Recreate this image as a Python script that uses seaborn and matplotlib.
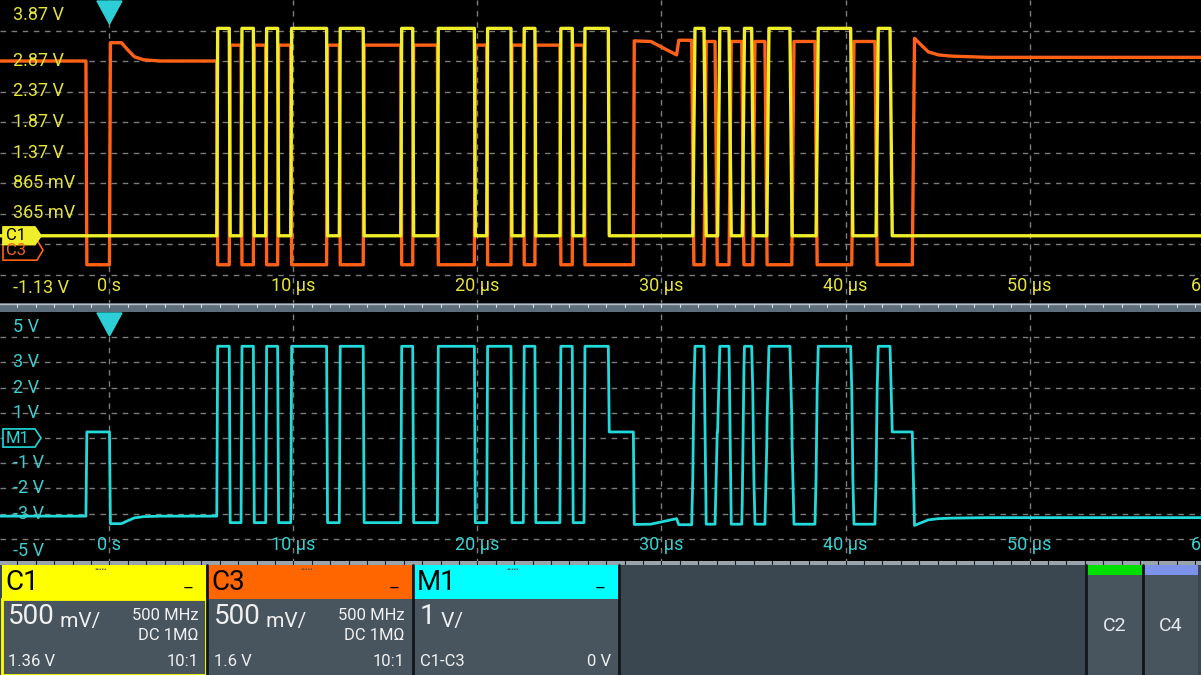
import numpy as np
import pandas as pd
import seaborn as sns
import matplotlib.pyplot as plt
import matplotlib.transforms as mtransforms
from matplotlib.patches import Rectangle, Polygon

# ---------------- data ----------------
# visible time window, µs
t_start_us, t_end_us = -5.95, 59.32

# C1 (yellow) toggle times in µs, trace starts low
c1_edges_us = [5.83, 6.51, 7.15, 7.82, 8.49, 9.14, 9.85, 11.80, 12.49, 13.79,
               15.83, 16.48, 17.82, 19.83, 20.50, 21.82, 22.49, 23.12, 24.48, 25.15,
               25.79, 27.11, 31.70, 32.31, 33.05, 33.67, 34.39, 34.90, 35.72, 36.98,
               38.40, 40.28, 41.66, 42.42]
c1_low_v, c1_high_v = 0.0, 3.40

# C3 (orange) toggle times in µs, trace starts high
c3_edges_us = [-1.28, 0.0, 5.83, 6.51, 7.15, 7.82, 8.49, 9.14, 9.85, 11.80,
               12.49, 13.79, 15.83, 16.48, 17.82, 19.83, 20.50, 21.82, 22.49, 23.12,
               24.48, 25.15, 25.79, 28.47, 31.64, 32.31, 32.91, 33.67, 34.36, 34.96,
               35.62, 37.08, 38.34, 40.34, 41.60, 43.63]
c3_low_v = -0.24
# level of every C3 high plateau: volts, or (µs after edge, volts) points for the sagging ones
c3_high_v = [
    3.10,
    [(0, 3.40), (0.6, 3.40), (0.95, 3.28), (1.3, 3.17), (1.8, 3.12), (2.7, 3.10)],
    3.36, 3.36, 3.36, 3.36, 3.36, 3.36, 3.36, 3.36, 3.36, 3.36,
    [(0, 3.43), (0.9, 3.42), (1.6, 3.31), (2.3, 3.20), (2.42, 3.44)],
    3.42, 3.42, 3.42, 3.42, 3.42,
    [(0, 3.47), (0.37, 3.36), (0.75, 3.25), (1.3, 3.20), (2.0, 3.18), (4.0, 3.16)],
]

# vertical settings
c1_offset_v, c1_scale_v = 1.365, 0.5
c3_offset_v, c3_scale_v = 1.6, 0.5
m1_offset_v, m1_scale_v = 0.0, 1.0

top_tick_div = [4.5, 3, 2, 1, 0, -1, -2, -4.45]
top_tick_labels = ["3.87 V", "2.87 V", "2.37 V", "1.87 V", "1.37 V", "865 mV", "365 mV", "-1.13 V"]
bot_tick_v = [4.4, 3, 2, 1, -1, -2, -3, -4.5]
bot_tick_labels = ["5 V", "3 V", "2 V", "1 V", "-1 V", "-2 V", "-3 V", "-5 V"]
time_ticks_us = [0, 10, 20, 30, 40, 50, 60]
time_labels = ["0 s", "10 µs", "20 µs", "30 µs", "40 µs", "50 µs", "60 µs"]
trigger_us = 0.0

YEL, ORA, CYA = "#f0ee2a", "#ff6216", "#22dada"
GRID = "#7c7c7c"


def edge_ramp(t):
    # the later frame has visibly slower edges
    return 0.12 if t > 29 else 0.05


def build_trace(edges, levels):
    starts = [t_start_us] + [e + edge_ramp(e) for e in edges]
    ends = list(edges) + [t_end_us]
    ts, vs = [], []
    for s, e, lev in zip(starts, ends, levels):
        pts = lev if isinstance(lev, list) else [(0, lev)]
        last = pts[0][1]
        for dt, v in pts:
            if s + dt < e:
                ts.append(s + dt)
                vs.append(v)
                last = v
        ts.append(e)
        vs.append(last)
    return np.array(ts), np.array(vs)


c1_levels = [c1_low_v if i % 2 == 0 else c1_high_v for i in range(len(c1_edges_us) + 1)]
c3_levels = []
hi = iter(c3_high_v)
for i in range(len(c3_edges_us) + 1):
    c3_levels.append(next(hi) if i % 2 == 0 else c3_low_v)

t1, v1 = build_trace(c1_edges_us, c1_levels)
t3, v3 = build_trace(c3_edges_us, c3_levels)
tm = np.union1d(t1, t3)
vm = np.interp(tm, t1, v1) - np.interp(tm, t3, v3)   # M1 = C1 - C3

df_c1 = pd.DataFrame({"t": t1, "div": (v1 - c1_offset_v) / c1_scale_v})
df_c3 = pd.DataFrame({"t": t3, "div": (v3 - c3_offset_v) / c3_scale_v})
df_m1 = pd.DataFrame({"t": tm, "div": (vm - m1_offset_v) / m1_scale_v})

# ---------------- figure ----------------
sns.set_style("dark")
plt.rcParams["font.family"] = ["Roboto", "DejaVu Sans"]

W, H = 1201, 675
fig = plt.figure(figsize=(W / 100, H / 100), dpi=100, facecolor="black")
ax_top = fig.add_axes([0, 1 - 305 / H, 1, 305 / H])
ax_bot = fig.add_axes([0, 1 - 564 / H, 1, 252 / H])

for ax in (ax_top, ax_bot):
    ax.set_facecolor("black")
    ax.set_xlim(t_start_us, t_end_us)
    ax.set_ylim(-5, 5)
    ax.set_xticks([])
    ax.set_yticks([])
    ax.grid(False)
    for sp in ax.spines.values():
        sp.set_visible(False)
    for d in range(-4, 5):
        ax.axhline(d, color=GRID, lw=1, dashes=(4, 4), zorder=1)
    for t in time_ticks_us[:-1]:
        ax.axvline(t, color=GRID, lw=1, dashes=(4, 4), zorder=1)

sns.lineplot(data=df_c3, x="t", y="div", estimator=None, sort=False,
             color=ORA, lw=2.4, ax=ax_top, zorder=3)
sns.lineplot(data=df_c1, x="t", y="div", estimator=None, sort=False,
             color=YEL, lw=2.4, ax=ax_top, zorder=4)
sns.lineplot(data=df_m1, x="t", y="div", estimator=None, sort=False,
             color=CYA, lw=2.0, ax=ax_bot, zorder=3)
for ax in (ax_top, ax_bot):
    ax.set_xlabel("")
    ax.set_ylabel("")
    ax.set_xlim(t_start_us, t_end_us)
    ax.set_ylim(-5, 5)

# axis labels drawn inside the graticule
for ax, ticks, labels, col in ((ax_top, top_tick_div, top_tick_labels, "#e6e43a"),
                               (ax_bot, bot_tick_v, bot_tick_labels, "#3ccfd0")):
    tr = mtransforms.blended_transform_factory(ax.transAxes, ax.transData)
    for y, lab in zip(ticks, labels):
        ax.text(13 / W, y, lab, transform=tr, color=col, fontsize=13,
                ha="left", va="center", zorder=6)

for ax, ypos, col in ((ax_top, 19 / 305, "#e6e43a"), (ax_bot, 19 / 252, "#3ccfd0")):
    tr = mtransforms.blended_transform_factory(ax.transData, ax.transAxes)
    for t, lab in zip(time_ticks_us, time_labels):
        ax.text(t, ypos, lab, transform=tr, color=col, fontsize=13,
                ha="center", va="center", zorder=6)
    # trigger marker
    ax.add_patch(Polygon([(trigger_us - 0.68, 1 - 1 / ax.bbox.height),
                          (trigger_us + 0.68, 1 - 1 / ax.bbox.height),
                          (trigger_us, 1 - 24 / ax.bbox.height)],
                         closed=True, transform=tr, color="#2ccfd6", zorder=7,
                         clip_on=False))


def channel_tag(ax, y_div, half_div, w_px, text, edge, face, tcol):
    tr = mtransforms.blended_transform_factory(ax.transAxes, ax.transData)
    x0, x1, x2 = 3 / W, w_px / W, (w_px + 6) / W
    ax.add_patch(Polygon([(x0, y_div - half_div), (x1, y_div - half_div), (x2, y_div),
                          (x1, y_div + half_div), (x0, y_div + half_div)],
                         closed=True, transform=tr, fc=face, ec=edge, lw=1.2, zorder=8))
    ax.text(6 / W, y_div, text, transform=tr, color=tcol, fontsize=12,
            ha="left", va="center", zorder=9)


channel_tag(ax_top, (0 - c3_offset_v) / c3_scale_v, 0.33, 37, "C3", ORA, "black", ORA)
channel_tag(ax_top, (0 - c1_offset_v) / c1_scale_v, 0.29, 35, "C1", YEL, YEL, "black")
channel_tag(ax_bot, (0 - m1_offset_v) / m1_scale_v, 0.36, 35, "M1", CYA, "black", CYA)

# ---------------- UI overlay (pixel coordinates) ----------------
ui = fig.add_axes([0, 0, 1, 1], facecolor="none")
ui.set_xlim(0, W)
ui.set_ylim(H, 0)
ui.axis("off")

# ruler between the two panes and under the lower pane
ui.add_patch(Rectangle((0, 303), W, 9, fc="#5d6d79", ec="none"))
ui.plot([0, W], [303.5, 303.5], color="#b4bec6", lw=1)
ui.add_patch(Rectangle((0, 561), W, 4, fc="#9aa4ad", ec="none"))
tr_ruler = mtransforms.blended_transform_factory(ax_top.transData, ui.transData)
for t in range(-5, 60):
    ui.plot([t, t], [303.5, 307], color="#d6dde2", lw=0.8, transform=tr_ruler)
    ui.plot([t, t], [561, 564], color="#1a1a1a", lw=0.8, transform=tr_ruler)

# bottom settings bar
ui.add_patch(Rectangle((0, 565), W, H - 565, fc="#3b4750", ec="none"))

boxes = [
    (2, "C1", "#ffff00", "500", "mV/", ["500 MHz", "DC 1MΩ"], "1.36 V", "10:1", True),
    (208, "C3", "#ff6600", "500", "mV/", ["500 MHz", "DC 1MΩ"], "1.6 V", "10:1", False),
    (414, "M1", "#00ffff", "1", "V/", [], "C1-C3", "0 V", False),
]
for x0, name, hcol, big, unit, rinfo, bl, br, sel in boxes:
    ui.add_patch(Rectangle((x0, 565), 204, 34, fc=hcol, ec="none"))
    ui.add_patch(Rectangle((x0, 599), 204, H - 599, fc="#48555e",
                           ec=hcol if sel else "none", lw=2))
    ui.text(x0 + 3, 583, name, color="black", fontsize=20, ha="left", va="center")
    ui.text(x0 + 99, 570, "•••••", color="#4a4a4a", fontsize=5.5, ha="center", va="center")
    ui.text(x0 + 186, 589, "–", color="black", fontsize=12, ha="center", va="center")
    bt = ui.text(x0 + 6, 617, big, color="#f0f0f0", fontsize=20, ha="left", va="center")
    ui.annotate(" " + unit, xycoords=bt, xy=(1, 0.32), color="#f0f0f0",
                fontsize=15, ha="left", va="center")
    for k, s in enumerate(rinfo):
        ui.text(x0 + 197, 616 + 20 * k, s, color="#f0f0f0", fontsize=12,
                ha="right", va="center")
    ui.text(x0 + 6, 661, bl, color="#f0f0f0", fontsize=12, ha="left", va="center")
    ui.text(x0 + 197, 661, br, color="#f0f0f0", fontsize=12, ha="right", va="center")

for x0, name, hcol in ((1087, "C2", "#00e000"), (1143, "C4", "#7d92ea")):
    ui.add_patch(Rectangle((x0, 565), 55, H - 565, fc="#48555e", ec="none"))
    ui.add_patch(Rectangle((x0, 565), 55, 10, fc=hcol, ec="none"))
    ui.text(x0 + 27.5, 626, name, color="#e6e9eb", fontsize=14, ha="center", va="center")
for xs in (206, 412, 618, 1085, 1142):
    ui.plot([xs + 1, xs + 1], [565, H], color="#11161a", lw=2)

fig.savefig("out.png", dpi=100, facecolor="black")
